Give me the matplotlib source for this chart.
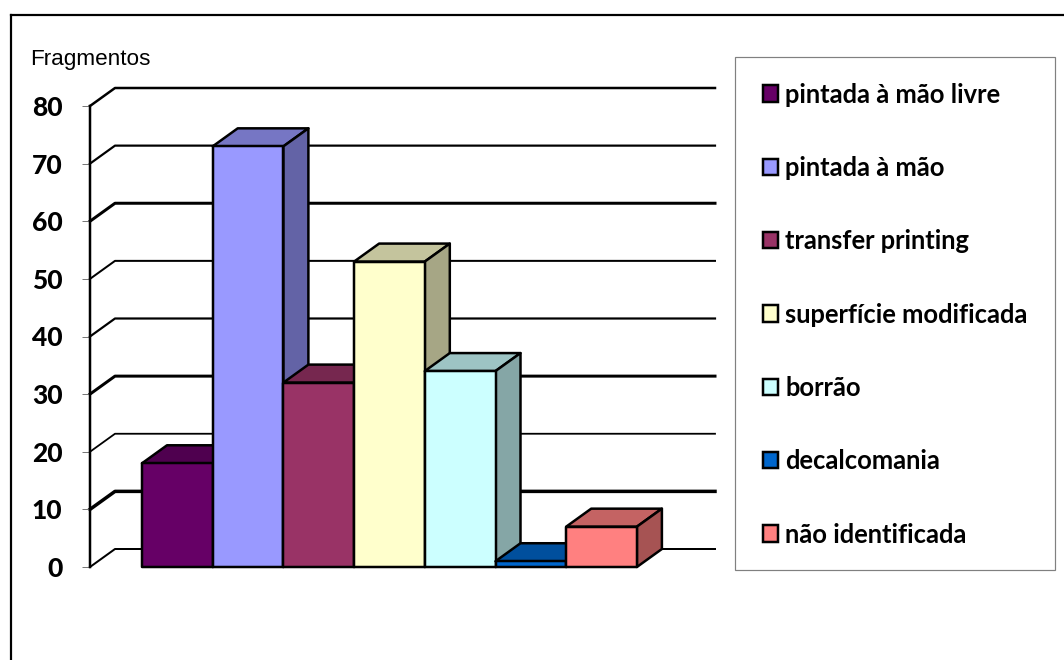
import matplotlib
matplotlib.use('Agg')
import matplotlib.pyplot as plt
from matplotlib.colors import to_rgb
from matplotlib.lines import Line2D
from matplotlib.patches import Polygon, Patch, Rectangle

# data
categories = ['pintada à mão livre', 'pintada à mão', 'transfer printing',
              'superfície modificada', 'borrão', 'decalcomania', 'não identificada']
values = [18, 73, 32, 53, 34, 1, 7]
colors = ['#660066', '#9999FF', '#993366', '#FFFFCC', '#CCFFFF', '#0066CC', '#FF8080']
yticks = [0, 10, 20, 30, 40, 50, 60, 70, 80]
grid_px = [2, 3.5, 1.8, 3, 2.2, 2, 3, 2.2, 2.5]

W, H = 1064, 660
PX = 0.72

fig = plt.figure(figsize=(W / 100, H / 100), dpi=100)
ax = fig.add_axes([90 / W, 1 - 567 / H, (715 - 90) / W, (567 - 106) / H])

bar_w = 70.7
ax.set_xlim((90 - 142) / bar_w, (715 - 142) / bar_w)
ax.set_ylim(0, 80)
dx = 25 / bar_w
dy = 18 / (461 / 80)
x_left = ax.get_xlim()[0]
x_right = ax.get_xlim()[1]

def shade(color, f):
    return tuple(c * f for c in to_rgb(color))

# walls, gridlines go back from the axis then run across
for y, w in zip(yticks, grid_px):
    ax.plot([x_left, x_left + dx, x_right], [y, y + dy, y + dy], color='black',
            lw=w * PX, clip_on=False, zorder=1, solid_joinstyle='round')

# bars, drawn left to right so each one covers the side of the one before
for i, (v, c) in enumerate(zip(values, colors)):
    kw = dict(edgecolor='black', lw=2.5 * PX, clip_on=False, zorder=2 + i, joinstyle='round')
    ax.add_patch(Polygon([(i, v), (i + 1, v), (i + 1 + dx, v + dy), (i + dx, v + dy)],
                         facecolor=shade(c, 0.77), **kw))
    ax.add_patch(Polygon([(i + 1, 0), (i + 1 + dx, dy), (i + 1 + dx, v + dy), (i + 1, v)],
                         facecolor=shade(c, 0.65), **kw))
    ax.add_patch(Polygon([(i, 0), (i + 1, 0), (i + 1, v), (i, v)], facecolor=c, **kw))

for s in ['top', 'right', 'bottom']:
    ax.spines[s].set_visible(False)
ax.spines['left'].set_linewidth(2.5 * PX)
ax.patch.set_visible(False)
ax.set_xticks([])
ax.set_yticks(yticks)
ax.tick_params(axis='y', length=8 * PX, width=1 * PX, color='#777777', pad=14)
for lab in ax.get_yticklabels():
    lab.set_fontfamily('Lato')
    lab.set_fontweight('black')
    lab.set_fontsize(19)

fig.text(30 / W, 1 - 59 / H, 'Fragmentos', family='Liberation Sans', fontsize=16.2,
         va='center', ha='left', color='black')

# legend box is drawn apart so the entries can sit where they do in the picture
fig.add_artist(Rectangle((735 / W, 1 - 570 / H), (1055 - 735) / W, (570 - 57) / H,
                         transform=fig.transFigure, facecolor='white',
                         edgecolor='#808080', lw=1.2 * PX))
handles = [Patch(facecolor=c, edgecolor='black', lw=2.5 * PX) for c in colors]
leg = fig.legend(handles, categories, loc='upper left',
                 bbox_to_anchor=(763 / W, 1 - 82.6 / H), bbox_transform=fig.transFigure,
                 prop={'family': 'Lato', 'weight': 'bold', 'size': 18.4},
                 frameon=False, borderaxespad=0, borderpad=0, labelspacing=1.93,
                 handlelength=0.6, handleheight=0.6, handletextpad=0.27)

# chart border, only left and top fall inside the picture
fig.add_artist(Line2D([11 / W, 11 / W], [0, 1 - 15 / H], color='black', lw=2.2 * PX))
fig.add_artist(Line2D([11 / W, 1], [1 - 15 / H, 1 - 15 / H], color='black', lw=2.2 * PX))

fig.savefig('out.png', dpi=100)
